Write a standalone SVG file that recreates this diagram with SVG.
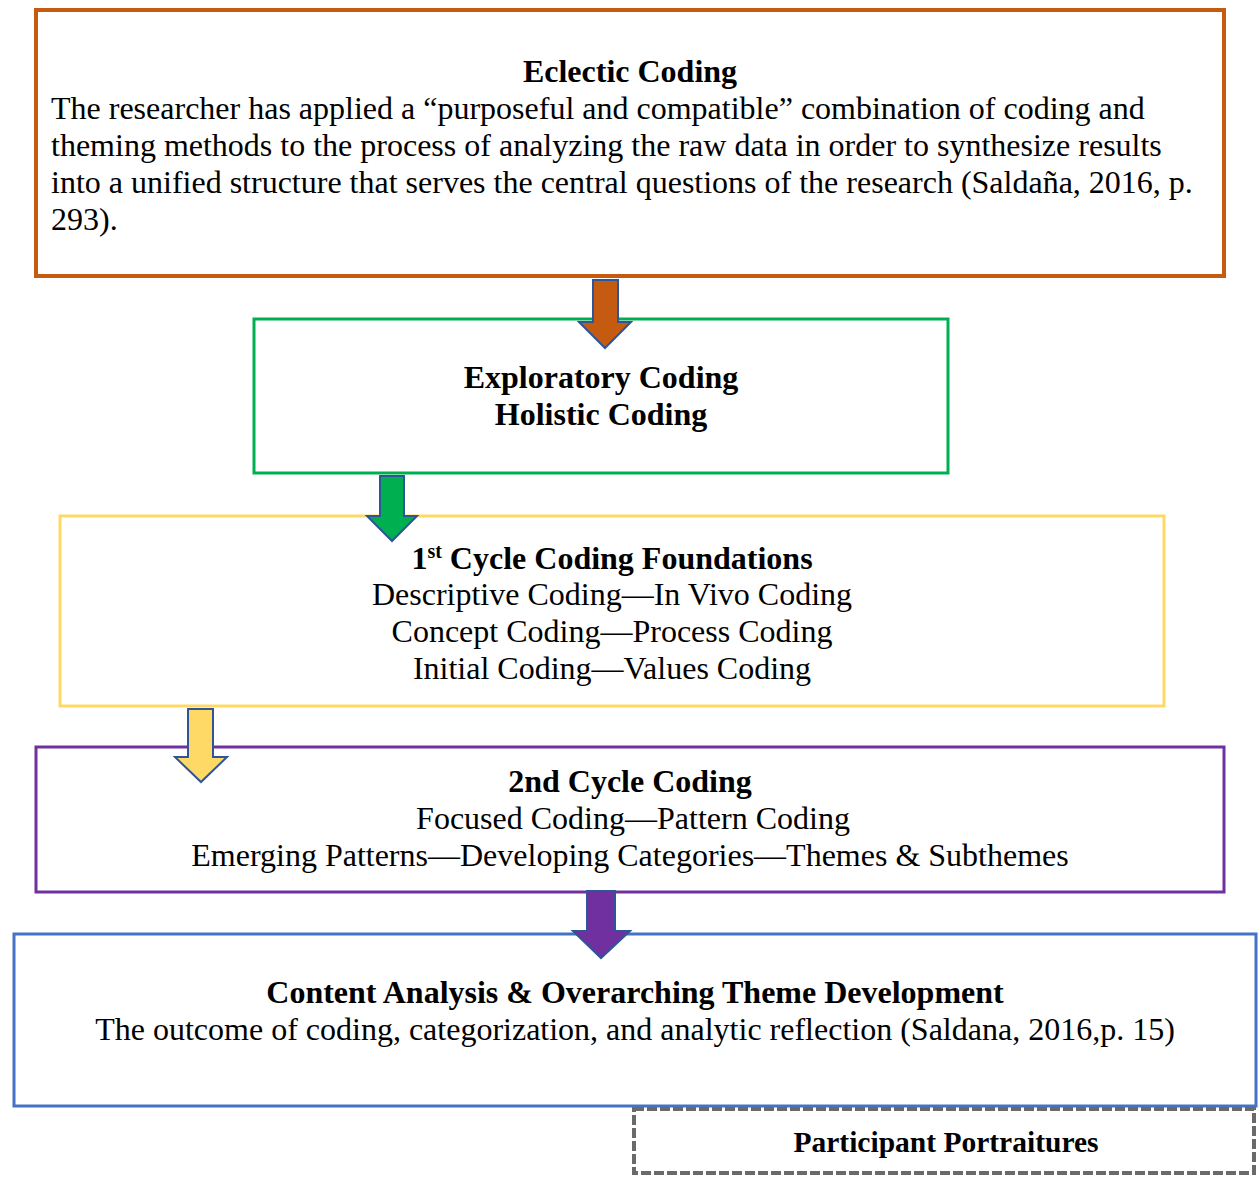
<svg xmlns="http://www.w3.org/2000/svg" width="1258" height="1178" viewBox="0 0 1258 1178">
<style>
text{font-family:"Liberation Serif","Times New Roman",serif;font-size:32px;fill:#000}
.b{font-weight:bold}
.c{text-anchor:middle}
.box{fill:#fff}
.arr{stroke:#2F5597;stroke-width:2;stroke-linejoin:miter}
</style>
<rect width="1258" height="1178" fill="#fff"/>
<g id="node-eclectic">
<rect class="box" x="36" y="10" width="1188" height="266" stroke="#C55A11" stroke-width="4"/>
<text class="b c" x="630" y="82">Eclectic Coding</text>
<text x="51" y="119">The researcher has applied a “purposeful and compatible” combination of coding and</text>
<text x="51" y="156">theming methods to the process of analyzing the raw data in order to synthesize results</text>
<text x="51" y="193">into a unified structure that serves the central questions of the research (Saldaña, 2016, p.</text>
<text x="51" y="230">293).</text>
</g>
<g id="node-exploratory">
<rect class="box" x="254" y="319" width="694" height="154" stroke="#00B050" stroke-width="3"/>
<text class="b c" x="601" y="388">Exploratory Coding</text>
<text class="b c" x="601" y="425">Holistic Coding</text>
</g>
<g id="node-first-cycle">
<rect class="box" x="60" y="516" width="1104" height="190" stroke="#FFD966" stroke-width="3"/>
<text class="b c" x="612" y="569">1<tspan font-size="20" dy="-11">st</tspan><tspan dy="11"> Cycle Coding Foundations</tspan></text>
<text class="c" x="612" y="605">Descriptive Coding—In Vivo Coding</text>
<text class="c" x="612" y="642">Concept Coding—Process Coding</text>
<text class="c" x="612" y="679">Initial Coding—Values Coding</text>
</g>
<g id="node-second-cycle">
<rect class="box" x="36" y="747" width="1188" height="145" stroke="#7030A0" stroke-width="3"/>
<text class="b c" x="630" y="792">2nd Cycle Coding</text>
<text class="c" x="633" y="829">Focused Coding—Pattern Coding</text>
<text class="c" x="630" y="866">Emerging Patterns—Developing Categories—Themes &amp; Subthemes</text>
</g>
<g id="node-content-analysis">
<rect class="box" x="14" y="934" width="1242" height="172" stroke="#4472C4" stroke-width="3"/>
<text class="b c" x="635" y="1003">Content Analysis &amp; Overarching Theme Development</text>
<text class="c" x="635" y="1040">The outcome of coding, categorization, and analytic reflection (Saldana, 2016,p. 15)</text>
</g>
<g id="node-portraitures">
<rect x="634" y="1109" width="620" height="64" fill="#fff" stroke="#6a6a6a" stroke-width="4" stroke-dasharray="10 3"/>
<text class="b c" x="946" y="1152" style="font-size:29.5px">Participant Portraitures</text>
</g>
<g id="connectors">
<polygon class="arr" fill="#C55A11" points="593,280 618,280 618,322 631,322 605,348 579,322 593,322"/>
<polygon class="arr" fill="#00B050" points="380,476 404,476 404,516 417,516 392,541 367,516 380,516"/>
<polygon class="arr" fill="#FFD966" points="188,709 213,709 213,757 227,757 201,782 175,757 188,757"/>
<polygon class="arr" fill="#7030A0" points="587,891 615,891 615,931 630,931 601,958 573,931 587,931"/>
</g>
</svg>
